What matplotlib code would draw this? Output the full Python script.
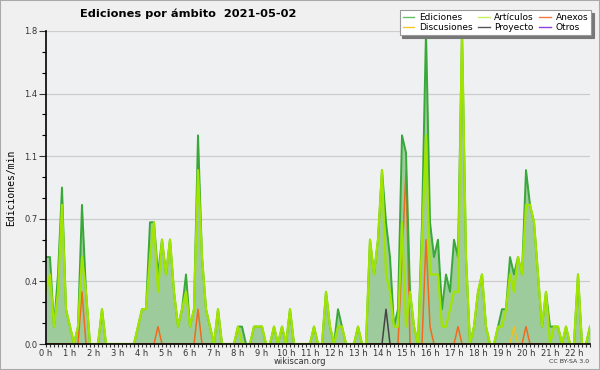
import numpy as np
import matplotlib.pyplot as plt
from matplotlib.lines import Line2D
from matplotlib.patches import Rectangle
from matplotlib.ticker import MultipleLocator

# ediciones/min, un valor cada 10 minutos (0:00 -> 22:40), 6 valores por hora
ediciones = [
    0.5, 0.5, 0.1, 0.4, 0.9, 0.2,   0.1, 0, 0.1, 0.8, 0.3, 0,
    0, 0, 0.2, 0, 0, 0,             0, 0, 0, 0, 0, 0.1,
    0.2, 0.2, 0.7, 0.7, 0.4, 0.6,   0.4, 0.6, 0.3, 0.1, 0.2, 0.4,
    0.1, 0.2, 1.2, 0.5, 0.2, 0.1,   0, 0.2, 0, 0, 0, 0,
    0.1, 0.1, 0, 0, 0.1, 0.1,       0.1, 0, 0, 0.1, 0, 0.1,
    0, 0.2, 0, 0, 0, 0,             0, 0.1, 0, 0, 0.3, 0.1,
    0, 0.2, 0.1, 0, 0, 0,           0.1, 0, 0, 0.6, 0.4, 0.6,
    1.0, 0.7, 0.5, 0.1, 0.2, 1.2,   1.1, 0.3, 0.1, 0, 0.7, 1.8,
    0.7, 0.5, 0.6, 0.2, 0.4, 0.3,   0.6, 0.5, 1.8, 0.5, 0, 0.1,
    0.3, 0.4, 0.1, 0, 0, 0.1,       0.2, 0.2, 0.5, 0.4, 0.5, 0.4,
    1.0, 0.8, 0.7, 0.4, 0.1, 0.3,   0.1, 0.1, 0.1, 0, 0.1, 0,
    0, 0.4, 0, 0, 0.1,
]
articulos = [
    0.3, 0.4, 0.1, 0.3, 0.8, 0.2,   0.1, 0, 0.1, 0.5, 0.3, 0,
    0, 0, 0.2, 0, 0, 0,             0, 0, 0, 0, 0, 0.1,
    0.2, 0.2, 0.5, 0.7, 0.3, 0.6,   0.4, 0.6, 0.3, 0.1, 0.2, 0.3,
    0.1, 0.2, 1.0, 0.5, 0.2, 0.1,   0, 0.2, 0, 0, 0, 0,
    0.1, 0, 0, 0, 0.1, 0.1,         0.1, 0, 0, 0.1, 0, 0.1,
    0, 0.2, 0, 0, 0, 0,             0, 0.1, 0, 0, 0.3, 0.1,
    0, 0.1, 0.1, 0, 0, 0,           0.1, 0, 0, 0.6, 0.4, 0.6,
    1.0, 0.4, 0.3, 0.1, 0.1, 0.7,   0.1, 0.3, 0.1, 0, 0.6, 1.2,
    0.4, 0.4, 0.4, 0.1, 0.1, 0.2,   0.3, 0.3, 1.8, 0.5, 0, 0.1,
    0.3, 0.4, 0.1, 0, 0, 0.1,       0.1, 0.2, 0.4, 0.3, 0.5, 0.4,
    0.8, 0.8, 0.7, 0.4, 0.1, 0.3,   0, 0.1, 0.1, 0, 0.1, 0,
    0, 0.4, 0, 0, 0.1,
]
anexos = [
    0, 0, 0, 0, 0, 0,               0, 0, 0, 0.3, 0, 0,
    0, 0, 0, 0, 0, 0,               0, 0, 0, 0, 0, 0,
    0, 0, 0, 0, 0.1, 0,             0, 0, 0, 0, 0, 0,
    0, 0, 0.2, 0, 0, 0,             0, 0, 0, 0, 0, 0,
    0, 0, 0, 0, 0, 0,               0, 0, 0, 0, 0, 0,
    0, 0, 0, 0, 0, 0,               0, 0, 0, 0, 0, 0,
    0, 0, 0, 0, 0, 0,               0, 0, 0, 0, 0, 0,
    0, 0, 0, 0, 0, 0.5,             1.0, 0, 0, 0, 0, 0.6,
    0.1, 0, 0, 0, 0, 0,             0, 0.1, 0, 0, 0, 0,
    0, 0, 0, 0, 0, 0,               0, 0, 0, 0, 0, 0,
    0.1, 0, 0, 0, 0, 0,             0, 0, 0, 0, 0, 0,
    0, 0, 0, 0, 0,
]
discusiones = [
    0, 0, 0, 0, 0, 0,               0, 0, 0, 0, 0, 0,
    0, 0, 0, 0, 0, 0,               0, 0, 0, 0, 0, 0,
    0, 0, 0, 0, 0, 0,               0, 0, 0, 0, 0, 0,
    0, 0, 0, 0, 0, 0,               0, 0, 0, 0, 0, 0,
    0, 0, 0, 0, 0, 0,               0, 0, 0, 0, 0, 0,
    0, 0, 0, 0, 0, 0,               0, 0, 0, 0, 0, 0,
    0, 0, 0, 0, 0, 0,               0, 0, 0, 0, 0, 0,
    0, 0, 0, 0, 0, 0,               0, 0, 0, 0, 0, 0,
    0, 0, 0, 0, 0, 0,               0, 0, 0, 0, 0, 0,
    0, 0, 0, 0, 0, 0,               0, 0, 0, 0.1, 0, 0,
    0, 0, 0, 0, 0, 0,               0, 0, 0, 0, 0, 0,
    0, 0, 0, 0, 0,
]
proyecto = [
    0, 0, 0, 0, 0, 0,               0, 0, 0, 0, 0, 0,
    0, 0, 0, 0, 0, 0,               0, 0, 0, 0, 0, 0,
    0, 0, 0, 0, 0, 0,               0, 0, 0, 0, 0, 0,
    0, 0, 0, 0, 0, 0,               0, 0, 0, 0, 0, 0,
    0, 0, 0, 0, 0, 0,               0, 0, 0, 0, 0, 0,
    0, 0, 0, 0, 0, 0,               0, 0, 0, 0, 0, 0,
    0, 0, 0, 0, 0, 0,               0, 0, 0, 0, 0, 0,
    0, 0.2, 0, 0, 0, 0,             0, 0, 0, 0, 0, 0,
    0, 0, 0, 0, 0, 0,               0, 0, 0, 0, 0, 0,
    0, 0, 0, 0, 0, 0,               0, 0, 0, 0, 0, 0,
    0, 0, 0, 0, 0, 0,               0, 0, 0, 0, 0, 0,
    0, 0, 0, 0, 0,
]
otros = [0] * len(ediciones)  # nada en todo el dia

ytick_vals = [0, 0.36, 0.72, 1.08, 1.44, 1.8]
hour_labels = [f"{h} h" for h in range(23)]

t = np.arange(len(ediciones)) / 6.0  # horas

fig = plt.figure(figsize=(6, 3.7), dpi=100, facecolor='#f0f0f0')
ax = fig.add_axes([46 / 600, 26 / 370, 544 / 600, 313 / 370])
ax.set_facecolor('#eff0f2')

ax.fill_between(t, ediciones, color='#9ecb9b', lw=0, zorder=2)
ax.plot(t, otros, color='#9040e0', lw=1.1, zorder=3)
ax.plot(t, proyecto, color='#444444', lw=1.1, zorder=3)
ax.plot(t, discusiones, color='#f0c020', lw=1.1, zorder=3)
ax.plot(t, anexos, color='#f06a20', lw=1.1, zorder=3)
ax.plot(t, ediciones, color='#38a838', lw=1.4, zorder=4)
ax.plot(t, articulos, color='#a0e400', lw=1.6, zorder=5)

ax.set_xlim(0, t[-1])
ax.set_ylim(0, 1.8)
ax.set_yticks(ytick_vals)
ax.set_yticklabels([f"{v:.1f}" for v in ytick_vals])
ax.yaxis.set_minor_locator(MultipleLocator(0.12))
ax.set_xticks(range(23))
ax.set_xticklabels(hour_labels)
ax.xaxis.set_minor_locator(MultipleLocator(1 / 6))
ax.grid(axis='y', color='#cccccc', lw=0.9, zorder=1)
ax.set_axisbelow(True)

for s in ['top', 'right']:
    ax.spines[s].set_visible(False)
for s in ['left', 'bottom']:
    ax.spines[s].set_linewidth(1.2)
    ax.spines[s].set_zorder(6)

ax.tick_params(axis='y', which='major', length=5, width=0.8, labelsize=6, pad=1, colors='#333333')
ax.tick_params(axis='y', which='minor', length=3, width=0.8)
ax.tick_params(axis='x', which='both', length=2.5, width=0.8, labelsize=6, pad=1, colors='#333333')

ax.set_ylabel('Ediciones/min', family='DejaVu Sans Mono', fontsize=7, labelpad=6)

fig.text(0.313, 0.962, 'Ediciones por ámbito  2021-05-02', ha='center', va='center',
         fontsize=8.2, fontweight='bold')
fig.text(0.5, 0.024, 'wikiscan.org', ha='center', va='center', fontsize=6, color='#333333')
fig.text(0.982, 0.022, 'CC BY-SA 3.0', ha='right', va='center', fontsize=4.5, color='#333333')

handles = [
    Line2D([], [], color='#66c066', lw=1),
    Line2D([], [], color='#f8c830', lw=1),
    Line2D([], [], color='#c8f060', lw=1),
    Line2D([], [], color='#555555', lw=1),
    Line2D([], [], color='#f07a40', lw=1),
    Line2D([], [], color='#9040e0', lw=1),
]
labels = ['Ediciones', 'Discusiones', 'Artículos', 'Proyecto', 'Anexos', 'Otros']
leg = fig.legend(handles, labels, ncol=3, loc='upper right', bbox_to_anchor=(0.993, 0.985),
                 fontsize=6.5, handlelength=1.3, handletextpad=0.5, columnspacing=0.6,
                 labelspacing=0.1, borderpad=0.35, fancybox=False, framealpha=1,
                 edgecolor='#999999', shadow={'color': '#777777', 'alpha': 1})
leg.get_frame().set_linewidth(0.8)

fig.patches.append(Rectangle((0, 0), 1, 1, transform=fig.transFigure, fill=False,
                             edgecolor='#aaaaaa', lw=1.5))

fig.savefig('out.png', dpi=100, facecolor=fig.get_facecolor())
